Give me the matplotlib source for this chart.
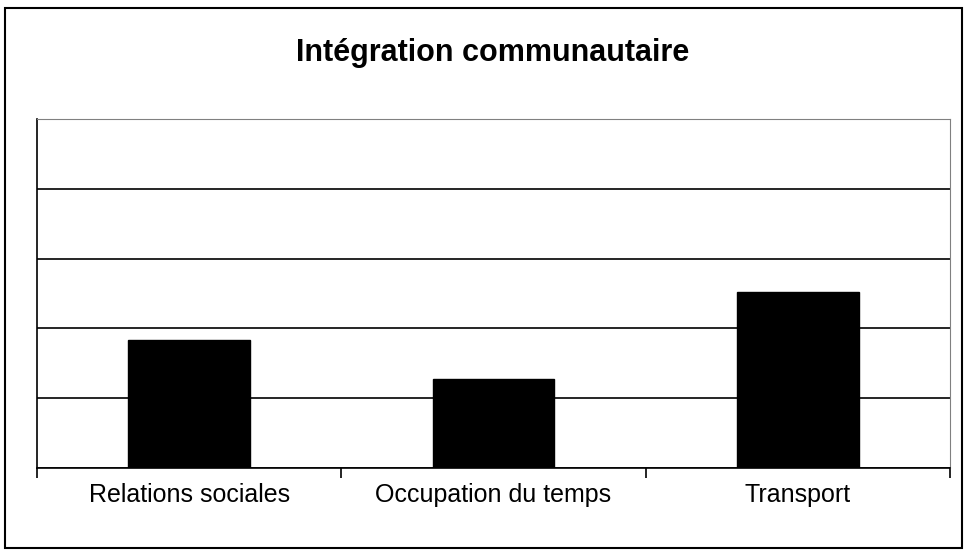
import matplotlib.pyplot as plt
from matplotlib.patches import Rectangle

# Data
categories = ['Relations sociales', 'Occupation du temps', 'Transport']
values = [1.83, 1.27, 2.52]

plt.rcParams['font.family'] = ['Liberation Sans', 'DejaVu Sans']

fig = plt.figure(figsize=(9.65, 5.5), dpi=100)
ax = fig.add_axes([37 / 965, 82 / 550, 913 / 965, 349 / 550])

x = list(range(len(categories)))
ax.bar(x, values, width=0.4, color='black', edgecolor='black', zorder=3)

ax.set_xlim(-0.5, len(categories) - 0.5)
ax.set_ylim(0, 5)
ax.set_yticks([0, 1, 2, 3, 4, 5])
ax.set_yticklabels([])
ax.tick_params(axis='y', length=0)
ax.yaxis.grid(True, color='black', linewidth=1.2, zorder=0)

# category labels at centers, ticks at boundaries
ax.set_xticks(x)
ax.set_xticklabels(categories, fontsize=18)
ax.tick_params(axis='x', which='major', length=0, pad=11)
ax.set_xticks([-0.5, 0.5, 1.5, 2.5], minor=True)
ax.tick_params(axis='x', which='minor', length=7, width=1.2, color='black')

ax.spines['left'].set_color('black')
ax.spines['left'].set_linewidth(1.2)
ax.spines['bottom'].set_color('black')
ax.spines['bottom'].set_linewidth(1.2)
ax.spines['top'].set_color('#808080')
ax.spines['right'].set_color('#808080')

fig.text(493 / 965, 1 - 53 / 550, 'Intégration communautaire', fontsize=22, fontweight='bold',
         ha='center', va='center')

# outer chart frame
fig.patches.append(Rectangle((5 / 965, 2 / 550), 957 / 965, 540 / 550, transform=fig.transFigure,
                             fill=False, edgecolor='black', linewidth=1.5))

fig.savefig('out.png', dpi=100)
